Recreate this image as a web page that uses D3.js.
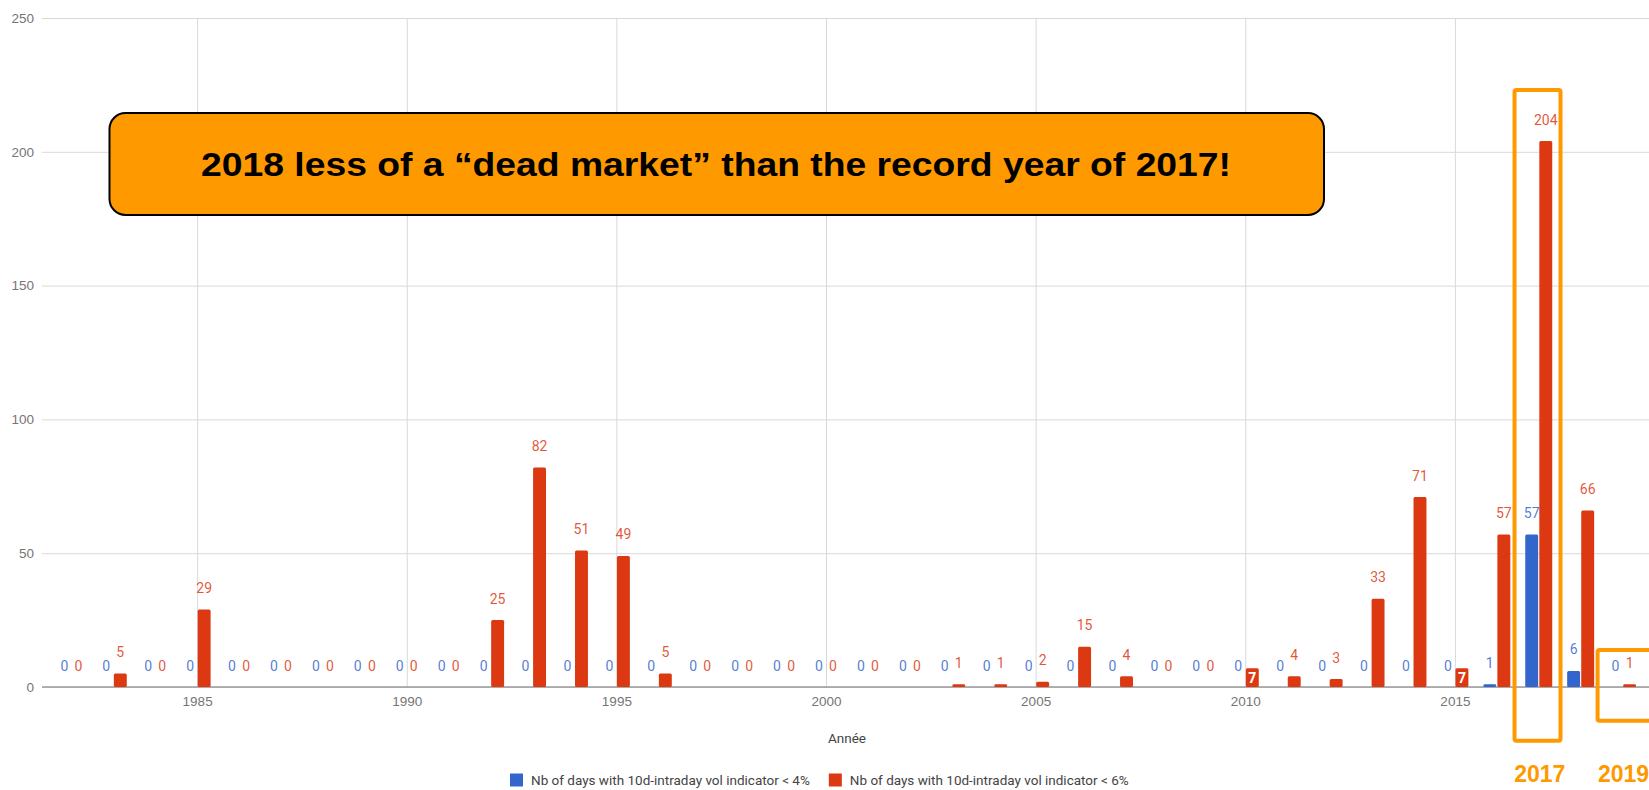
<!DOCTYPE html>
<html>
<head>
<meta charset="utf-8">
<script src="https://cdn.jsdelivr.net/npm/d3@7"></script>
<style>
  html, body { margin: 0; padding: 0; background: #fff; }
  svg { display: block; font-family: Roboto, Arial, sans-serif; }
</style>
</head>
<body>
<div id="chart"></div>
<script>
'use strict';

// years on the x axis
var years = [1982, 1983, 1984, 1985, 1986, 1987, 1988, 1989, 1990, 1991,
             1992, 1993, 1994, 1995, 1996, 1997, 1998, 1999, 2000, 2001,
             2002, 2003, 2004, 2005, 2006, 2007, 2008, 2009, 2010, 2011,
             2012, 2013, 2014, 2015, 2016, 2017, 2018, 2019];

// nb of days with vol indicator < 4%
var below4 = [0, 0, 0, 0, 0, 0, 0, 0, 0, 0,
              0, 0, 0, 0, 0, 0, 0, 0, 0, 0,
              0, 0, 0, 0, 0, 0, 0, 0, 0, 0,
              0, 0, 0, 0, 1, 57, 6, 0];

// nb of days with vol indicator < 6%
var below6 = [0, 5, 0, 29, 0, 0, 0, 0, 0, 0,
              25, 82, 51, 49, 5, 0, 0, 0, 0, 0,
              0, 1, 1, 2, 15, 4, 0, 0, 7, 4,
              3, 33, 71, 7, 57, 204, 66, 1];

var seriesNames = ["Nb of days with 10d-intraday vol indicator < 4%",
                   "Nb of days with 10d-intraday vol indicator < 6%"];
var seriesColors = ["#3366cc", "#dc3912"];

var yTicks = [0, 50, 100, 150, 200, 250];
var xTicks = [1985, 1990, 1995, 2000, 2005, 2010, 2015];
var xTitle = "Année";

var headline = "2018 less of a \u201cdead market\u201d than the record year of 2017!";
var highlightYears = [2017, 2019];

var W = 1649, H = 790;
var plotLeft = 42, plotTop = 18, plotBottom = 687;

var svg = d3.select("#chart").append("svg")
    .attr("width", W)
    .attr("height", H);

var x = d3.scaleLinear().domain([1981.3, 2019.63]).range([plotLeft, W]);
var y = d3.scaleLinear().domain([0, 250]).range([plotBottom, plotTop]);
var sub = d3.scaleBand().domain([0, 1]).range([-13.5, 13.5]).paddingInner(0.08);

// grid + axes
var yAxis = svg.append("g")
    .attr("transform", "translate(" + plotLeft + ",0)")
    .call(d3.axisLeft(y).tickValues(yTicks).tickSize(-(W - plotLeft)).tickPadding(8));
yAxis.select(".domain").remove();
yAxis.selectAll("line").attr("stroke", "#d9d9d9");
yAxis.selectAll("text").attr("fill", "#757575").style("font-size", "13.5px");

var xAxis = svg.append("g")
    .attr("transform", "translate(0," + plotBottom + ")")
    .call(d3.axisBottom(x).tickValues(xTicks).tickFormat(d3.format("d"))
      .tickSize(-(plotBottom - plotTop)).tickPadding(9));
xAxis.select(".domain").remove();
xAxis.selectAll("line").attr("stroke", "#d9d9d9");
xAxis.selectAll("text").attr("fill", "#757575").style("font-size", "13.5px");

svg.append("line")
    .attr("x1", plotLeft).attr("x2", W)
    .attr("y1", y(0)).attr("y2", y(0))
    .attr("stroke", "#9a9a9a")
    .attr("stroke-width", 1.5);

// bars
var rows = years.map(function(yr, i) {
  return [{year: yr, s: 0, v: below4[i]}, {year: yr, s: 1, v: below6[i]}];
});
var cells = d3.merge(rows);

svg.append("g")
  .selectAll("rect")
  .data(cells.filter(function(d) { return d.v > 0; }))
  .join("rect")
    .attr("x", function(d) { return x(d.year) + sub(d.s); })
    .attr("y", function(d) { return y(d.v); })
    .attr("width", sub.bandwidth())
    .attr("height", function(d) { return y(0) - y(d.v); })
    .attr("rx", 1.5)
    .attr("fill", function(d) { return seriesColors[d.s]; });

// value labels (short bars get theirs inside, in white)
function inside(d) {
  var h = y(0) - y(d.v);
  return h >= 18 && h < 30;
}
svg.append("g")
  .selectAll("text")
  .data(cells)
  .join("text")
    .attr("x", function(d) { return x(d.year) + sub(d.s) + sub.bandwidth() / 2; })
    .attr("y", function(d) { return inside(d) ? (y(d.v) + y(0)) / 2 : y(d.v) - 21.5; })
    .attr("dy", "0.36em")
    .attr("text-anchor", "middle")
    .style("font-size", "14px")
    .style("font-weight", function(d) { return inside(d) ? "bold" : null; })
    .attr("fill", function(d) { return inside(d) ? "#fff" : seriesColors[d.s]; })
    .attr("fill-opacity", function(d) { return inside(d) ? 1 : 0.85; })
    .text(function(d) { return d.v; });

// axis title
svg.append("text")
    .attr("x", 847).attr("y", 738)
    .attr("dy", "0.36em")
    .attr("text-anchor", "middle")
    .attr("fill", "#444")
    .style("font-size", "13.5px")
    .text(xTitle);

// legend
var legend = svg.append("g").attr("transform", "translate(510,780)");
var lx = 0;
seriesNames.forEach(function(name, i) {
  legend.append("rect")
      .attr("x", lx).attr("y", -6.5)
      .attr("width", 13).attr("height", 13)
      .attr("fill", seriesColors[i]);
  var t = legend.append("text")
      .attr("x", lx + 21).attr("y", 0)
      .attr("dy", "0.36em")
      .attr("fill", "#444")
      .style("font-size", "13.5px")
      .text(name);
  lx = lx + 21 + t.node().getComputedTextLength() + 19;
});

// orange highlight overlays
var orange = "#ff9900";
svg.append("rect")
    .attr("x", x(highlightYears[0]) - 24.2)
    .attr("y", 90)
    .attr("width", 46)
    .attr("height", 650.7)
    .attr("rx", 2)
    .attr("fill", "none")
    .attr("stroke", orange)
    .attr("stroke-width", 4);

svg.append("rect")
    .attr("x", x(highlightYears[1]) - 25)
    .attr("y", 650)
    .attr("width", 80)
    .attr("height", 70.7)
    .attr("rx", 2)
    .attr("fill", "none")
    .attr("stroke", orange)
    .attr("stroke-width", 4);

svg.append("g")
  .selectAll("text")
  .data(highlightYears)
  .join("text")
    .attr("x", function(d) { return x(d) + 1; })
    .attr("y", 782)
    .attr("text-anchor", "middle")
    .attr("fill", orange)
    .style("font-family", "'Liberation Sans', Arial, sans-serif")
    .style("font-weight", "bold")
    .style("font-size", "23px")
    .text(function(d) { return d; });

// headline box
svg.append("rect")
    .attr("x", 109.5).attr("y", 113)
    .attr("width", 1214.5).attr("height", 102)
    .attr("rx", 16)
    .attr("fill", orange)
    .attr("stroke", "#000")
    .attr("stroke-width", 2);

svg.append("text")
    .attr("x", 716).attr("y", 164)
    .attr("dy", "0.36em")
    .attr("text-anchor", "middle")
    .attr("fill", "#000")
    .attr("textLength", 1030)
    .attr("lengthAdjust", "spacingAndGlyphs")
    .style("font-family", "'Liberation Sans', Arial, sans-serif")
    .style("font-weight", "bold")
    .style("font-size", "34px")
    .text(headline);
</script>
</body>
</html>
